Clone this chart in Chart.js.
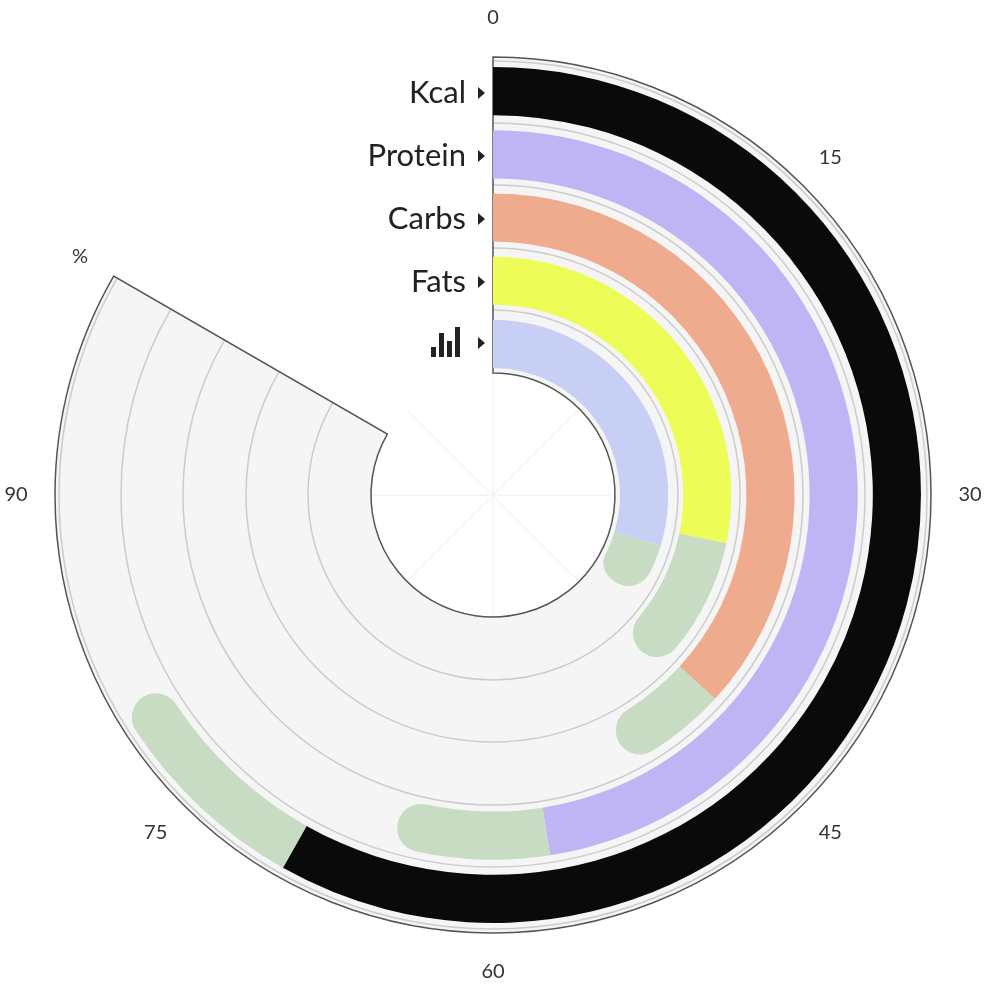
<!DOCTYPE html>
<html>
<head>
<meta charset="utf-8">
<script src="https://cdn.jsdelivr.net/npm/chart.js@4/dist/chart.umd.min.js"></script>
<style>
  body { margin: 0; background: #fff; }
  canvas { display: block; }
</style>
</head>
<body>
<canvas id="radial" width="988" height="998"></canvas>
<script>
// data (scale 0..100 over 300 degrees)
var categories = ['Kcal', 'Protein', 'Carbs', 'Fats', 'icon'];
var values = [69.8, 57, 44.2, 33.9, 35.6];
var targets = [80, 65.4, 51, 45.5, 41.8];
var barColors = ['#0a0a0a', '#bfb5f5', '#eeab8e', '#eefc57', '#c7cff5'];
var targetColor = '#c8dcc4';
var tickLabels = ['0', '15', '30', '45', '60', '75', '90', '%'];
var tickValues = [0, 15, 30, 45, 60, 75, 90, 100];
var maxValue = 100;

var ringWeight = 48;
var gapWeights = [10, 15, 15, 15, 15, 5]; // outer spacer, between rings, inner spacer

function spacer(w) {
  return { data: [maxValue], weight: w, backgroundColor: 'rgba(0,0,0,0)', borderWidth: 0 };
}

var datasets = [spacer(gapWeights[0])];
for (var i = 0; i < categories.length; i++) {
  datasets.push({
    data: [values[i], targets[i] - values[i], maxValue - targets[i]],
    weight: ringWeight,
    backgroundColor: [barColors[i], targetColor, 'rgba(0,0,0,0)'],
    borderWidth: 0,
    borderRadius: function (ctx) {
      if (ctx.dataIndex === 1) return { outerStart: 0, innerStart: 0, outerEnd: 24, innerEnd: 24 };
      return 0;
    }
  });
  datasets.push(spacer(gapWeights[i + 1]));
}

function toAngle(v) { return -Math.PI / 2 + v / maxValue * (300 / 180) * Math.PI; }

var panePlugin = {
  id: 'pane',
  beforeDatasetsDraw: function (chart) {
    var meta = chart.getDatasetMeta(0);
    var arc = meta.data[0];
    var cx = arc.x, cy = arc.y;
    var R = chart._metasets ? arc.outerRadius : 438;
    var r0 = 122;
    var c = chart.ctx;
    var a0 = toAngle(0), a1 = toAngle(maxValue);
    c.save();
    // faint radial lines in the hole
    c.strokeStyle = '#eeeeee';
    c.lineWidth = 1;
    for (var k = 0; k < 8; k++) {
      var a = k * Math.PI / 4;
      c.beginPath();
      c.moveTo(cx, cy);
      c.lineTo(cx + Math.cos(a) * r0, cy + Math.sin(a) * r0);
      c.stroke();
    }
    c.beginPath();
    c.arc(cx, cy, R, a0, a1);
    c.arc(cx, cy, r0, a1, a0, true);
    c.closePath();
    c.fillStyle = '#f5f5f5';
    c.fill();
    // ring tracks
    c.strokeStyle = '#cccccc';
    c.lineWidth = 1.5;
    [434, 372, 310, 247, 185].forEach(function (rr) {
      c.beginPath();
      c.arc(cx, cy, rr, a0, a1);
      c.stroke();
    });
    c.strokeStyle = '#555555';
    c.lineWidth = 1.5;
    c.beginPath();
    c.arc(cx, cy, R, a0, a1);
    c.lineTo(cx + Math.cos(a1) * r0, cy + Math.sin(a1) * r0);
    c.arc(cx, cy, r0, a1, a0, true);
    c.closePath();
    c.stroke();
    c.restore();
  },
  afterDatasetsDraw: function (chart) {
    var arc = chart.getDatasetMeta(0).data[0];
    var cx = arc.x, cy = arc.y;
    var c = chart.ctx;
    c.save();
    c.fillStyle = '#333333';
    c.font = '20px Lato';
    c.textAlign = 'center';
    c.textBaseline = 'middle';
    for (var t = 0; t < tickLabels.length; t++) {
      var a = toAngle(tickValues[t]);
      c.fillText(tickLabels[t], cx + Math.cos(a) * 477, cy + Math.sin(a) * 477);
    }
    // category labels
    var ys = [93, 156, 219, 282, 343];
    c.font = '31px Lato';
    c.textAlign = 'right';
    for (var i = 0; i < categories.length; i++) {
      var y = ys[i];
      c.fillStyle = '#222222';
      if (categories[i] === 'icon') {
        c.fillRect(431, y + 4, 5, 10);
        c.fillRect(439, y - 10, 5, 24);
        c.fillRect(447, y - 2, 5, 16);
        c.fillRect(455, y - 16, 5, 30);
      } else {
        c.fillText(categories[i], 466, y);
      }
      c.beginPath();
      c.moveTo(478, y - 6);
      c.lineTo(485, y);
      c.lineTo(478, y + 6);
      c.closePath();
      c.fill();
    }
    c.restore();
  }
};

new Chart(document.getElementById('radial'), {
  type: 'doughnut',
  data: { labels: ['value', 'target', 'rest'], datasets: datasets },
  options: {
    responsive: false,
    animation: false,
    rotation: 0,
    circumference: 300,
    cutout: 122,
    layout: { padding: { left: 55, right: 57, top: 57, bottom: 65 } },
    events: [],
    plugins: { legend: { display: false }, tooltip: { enabled: false } }
  },
  plugins: [panePlugin]
});
</script>
</body>
</html>
